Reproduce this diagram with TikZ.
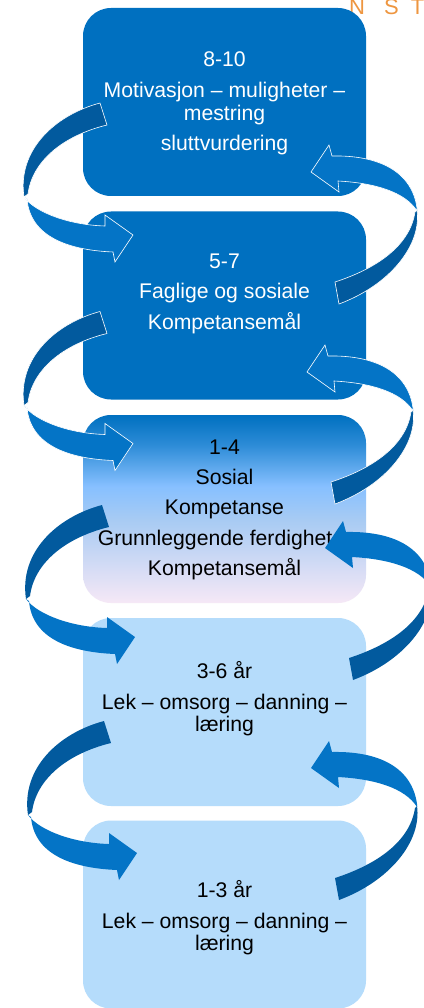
\documentclass[tikz,border=0pt]{standalone}
\usepackage{fontspec}
\setmainfont{Liberation Sans}
\definecolor{boxdark}{RGB}{0,112,192}
\definecolor{boxlight}{RGB}{181,220,251}
\definecolor{arrlightc}{RGB}{4,116,198}
\definecolor{arrdarkc}{RGB}{2,90,158}
\definecolor{orangelogo}{RGB}{238,150,64}
\definecolor{gA}{RGB}{0,112,192}
\definecolor{gB}{RGB}{45,140,215}
\definecolor{gC}{RGB}{135,192,255}
\definecolor{gD}{RGB}{168,203,243}
\definecolor{gE}{RGB}{246,232,246}
\pgfdeclareverticalshading{boxthree}{100bp}{color(0bp)=(gE); color(25bp)=(gE); color(47bp)=(gD); color(56bp)=(gC); color(67bp)=(gB); color(75bp)=(gA); color(100bp)=(gA)}
\tikzset{
  box/.style={rounded corners=28pt, minimum width=283pt, minimum height=188pt, inner sep=0pt, draw=none},
  txt/.style={font=\fontsize{21.2}{22.5}\selectfont, align=center, inner sep=0pt, anchor=north},
  arrdark/.style={fill=arrdarkc},
  arrlight/.style={fill=arrlightc},
  outlined/.style={draw=white, line width=0.6pt},
  plain/.style={},
}
\newcommand\leftcurl[2]{%
  \begin{scope}[shift={#1}]
    \path[arrdark,#2] (100,103) .. controls (55,115) and (17,150) .. (24,197) -- (28,194) .. controls (32,162) and (62,136) .. (107,125) -- cycle;
    \path[arrlight,#2] (24,197) .. controls (36,213) and (70,225) .. (105,226) -- (105,215) -- (133,235) -- (115,262) -- (113,252) .. controls (65,250) and (30,235) .. (27,199) -- cycle;
  \end{scope}}
\newcommand\rightcurl[2]{%
  \begin{scope}[shift={#1}]
    \path[arrdark,#2] (417,210) .. controls (422,245) and (390,285) .. (339,304) -- (335,282) .. controls (378,268) and (410,245) .. (415,212) -- cycle;
    \path[arrlight,#2] (417,208) .. controls (412,172) and (380,155) .. (332,156) -- (329,145) -- (311,172) -- (339,192) -- (338,181) .. controls (375,183) and (405,192) .. (417,211) -- cycle;
  \end{scope}}
\begin{document}
\begin{tikzpicture}[x=1pt,y=-1pt]
  \fill[white] (0,0) rectangle (423,1008);
  \useasboundingbox (0,0) rectangle (423,1008);
  % logo fragment (cut at the top edge, as in the reference)
  \node[anchor=base west, text=orangelogo, font=\fontsize{22}{22}\selectfont, inner sep=0pt] (logo) at (349,15) {N\kern19pt S\kern12pt T};
  % boxes
  \node[box, fill=boxdark] (b1) at (224.5,102) {};
  \node[box, fill=boxdark] (b2) at (224.5,305.5) {};
  \node[box, shading=boxthree] (b3) at (224.5,509) {};
  \node[box, fill=boxlight] (b4) at (224.5,712) {};
  \node[box, fill=boxlight] (b5) at (224.5,914.5) {};
  % texts
  \node[txt, text=white] (t1) at (224.5,51.5) {8-10\\[8.5pt]Motivasjon – muligheter –\\mestring\\[7.5pt]sluttvurdering};
  \node[txt, text=white] (t2) at (224.5,254) {5-7\\[7pt]Faglige og sosiale\\[8.5pt]Kompetansemål};
  \node[txt, text=black] (t3) at (224.5,440) {1-4\\[7.5pt]Sosial\\[7.5pt]Kompetanse\\[8pt]Grunnleggende ferdigheter\\[8pt]Kompetansemål};
  \node[txt, text=black] (t4) at (224.5,661) {3-6 år\\[8.5pt]Lek – omsorg – danning –\\læring};
  \node[txt, text=black] (t5) at (224.5,880) {1-3 år\\[8.5pt]Lek – omsorg – danning –\\læring};
  % curved arrows
  \leftcurl{(0,0)}{outlined}
  \leftcurl{(0,208.5)}{outlined}
  \leftcurl{(2,402)}{plain}
  \leftcurl{(4,618)}{plain}
  \rightcurl{(0,0)}{outlined}
  \rightcurl{(-4,200)}{outlined}
  \rightcurl{(14,376)}{plain}
  \rightcurl{(0,596)}{plain}
\end{tikzpicture}
\end{document}
